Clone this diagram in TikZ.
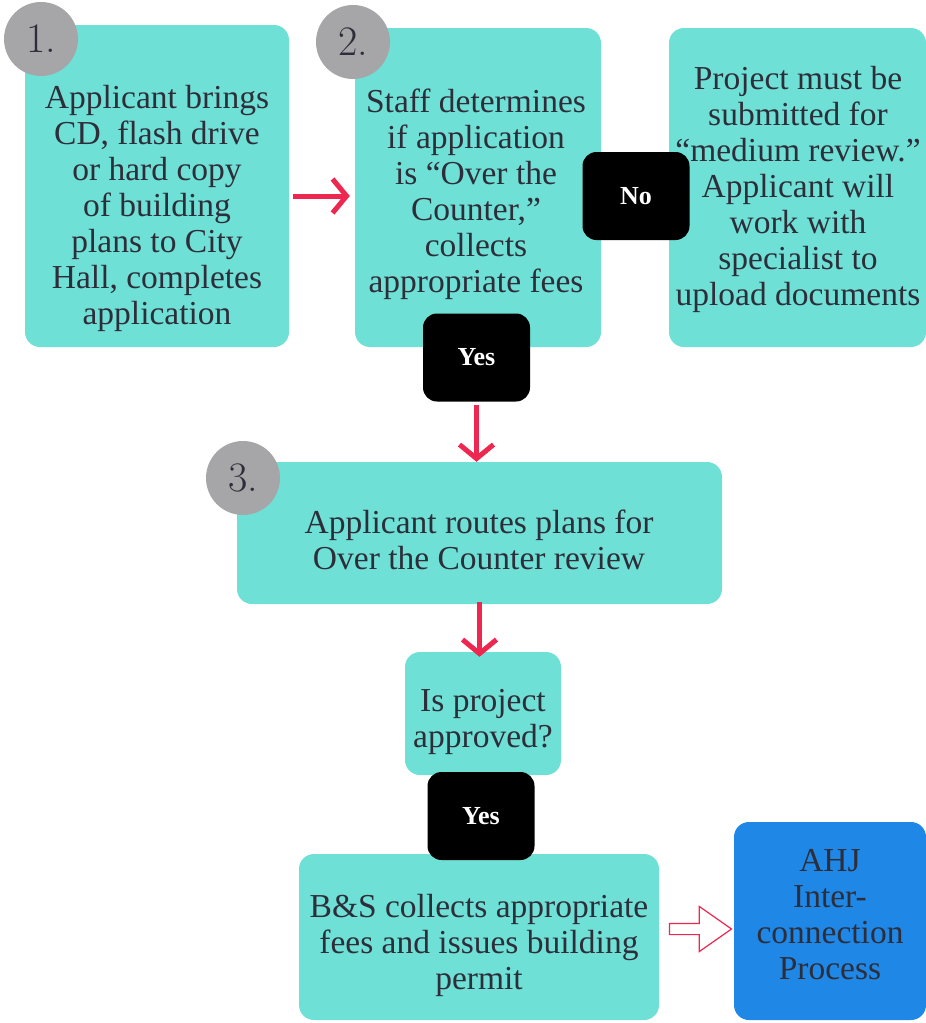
\documentclass[tikz,border=0pt]{standalone}
\usepackage{fontspec}
\usetikzlibrary{arrows.meta,shapes.arrows}
\newfontfamily\bodyfont{Liberation Serif}

\definecolor{turq}{HTML}{6FE0D6}
\definecolor{ahjblue}{HTML}{1F87E6}
\definecolor{badgegray}{HTML}{A6A6A8}
\definecolor{arrowred}{HTML}{EE2750}
\definecolor{ink}{HTML}{2E2E3A}

\tikzset{
    card/.style={fill=turq, rounded corners=15pt, inner sep=0pt},
    cardtext/.style={font=\bodyfont\fontsize{33.5}{36}\selectfont, text=ink, align=center, inner sep=0pt},
    badge/.style={circle, fill=badgegray, minimum size=74pt, inner sep=0pt,
        font=\fontsize{42}{42}\selectfont, text=ink},
    answer/.style={fill=black, rounded corners=14pt, text=white, minimum width=107pt,
        minimum height=88pt, font=\bodyfont\bfseries\fontsize{26}{26}\selectfont},
    flow/.style={draw=arrowred, line width=5pt, -{Straight Barb[length=14pt,width=34pt]}},
    hollowarrow/.style={single arrow, draw=arrowred, fill=white, line width=1.2pt,
        minimum height=62pt, inner sep=5pt, single arrow head extend=17pt,
        single arrow tip angle=70},
}

\begin{document}
\begin{tikzpicture}[x=1pt,y=-1pt]
    \useasboundingbox (0,0) rectangle (926,1023);
    % boxes
    \node[card, minimum width=264pt, minimum height=322pt] (b1) at (157,186) {};
    \node[card, minimum width=246pt, minimum height=319pt] (b2) at (478,187.5) {};
    \node[card, minimum width=257pt, minimum height=319pt] (b3) at (797.5,187.5) {};
    \node[card, minimum width=485pt, minimum height=142pt] (b4) at (479.5,533) {};
    \node[card, minimum width=156pt, minimum height=123pt] (b5) at (483,713.5) {};
    \node[card, minimum width=360pt, minimum height=166pt] (b6) at (479,937) {};
    \node[card, fill=ahjblue, minimum width=192pt, minimum height=198pt] (b7) at (830,921) {};

    \node[cardtext] (t1) at (157,208) {Applicant brings\\CD, flash drive\\or hard copy\\of building\\plans to City\\Hall, completes\\application};
    \node[cardtext] (t2) at (476,194) {Staff determines\\if application\\is “Over the\\Counter,”\\collects\\appropriate fees};
    \node[cardtext] (t3) at (798,189) {Project must be\\submitted for\\“medium review.”\\Applicant will\\work with\\specialist to\\upload documents};
    \node[cardtext] (t4) at (479,540) {Applicant routes plans for\\Over the Counter review};
    \node[cardtext] (t5) at (483,722) {Is project\\approved?};
    \node[cardtext] (t6) at (479,945) {B\&S collects appropriate\\fees and issues building\\permit};
    \node[cardtext] (t7) at (830,915) {AHJ\\Inter-\\connection\\Process};

    % step numbers
    \node[badge] (n1) at (41,39) {1.};
    \node[badge] (n2) at (353,42) {2.};
    \node[badge] (n3) at (243,478) {3.};

    % answers
    \node[answer] (no) at (636,196) {No};
    \node[answer] (yes1) at (476.5,357.5) {Yes};
    \node[answer] (yes2) at (481,816) {Yes};

    % connectors
    \draw[flow, shorten <=4pt, shorten >=5pt] (b1.east |- no) -- (b2.west |- no);
    \draw[flow, shorten <=3pt] (yes1.south) -- (yes1.south |- b4.north);
    \draw[flow, shorten <=-2pt, shorten >=-5pt] (b4.south) -- (b4.south |- b5.north);
    \path (b6.east) -- node[hollowarrow] (ha) {} (b7.west);
\end{tikzpicture}
\end{document}
